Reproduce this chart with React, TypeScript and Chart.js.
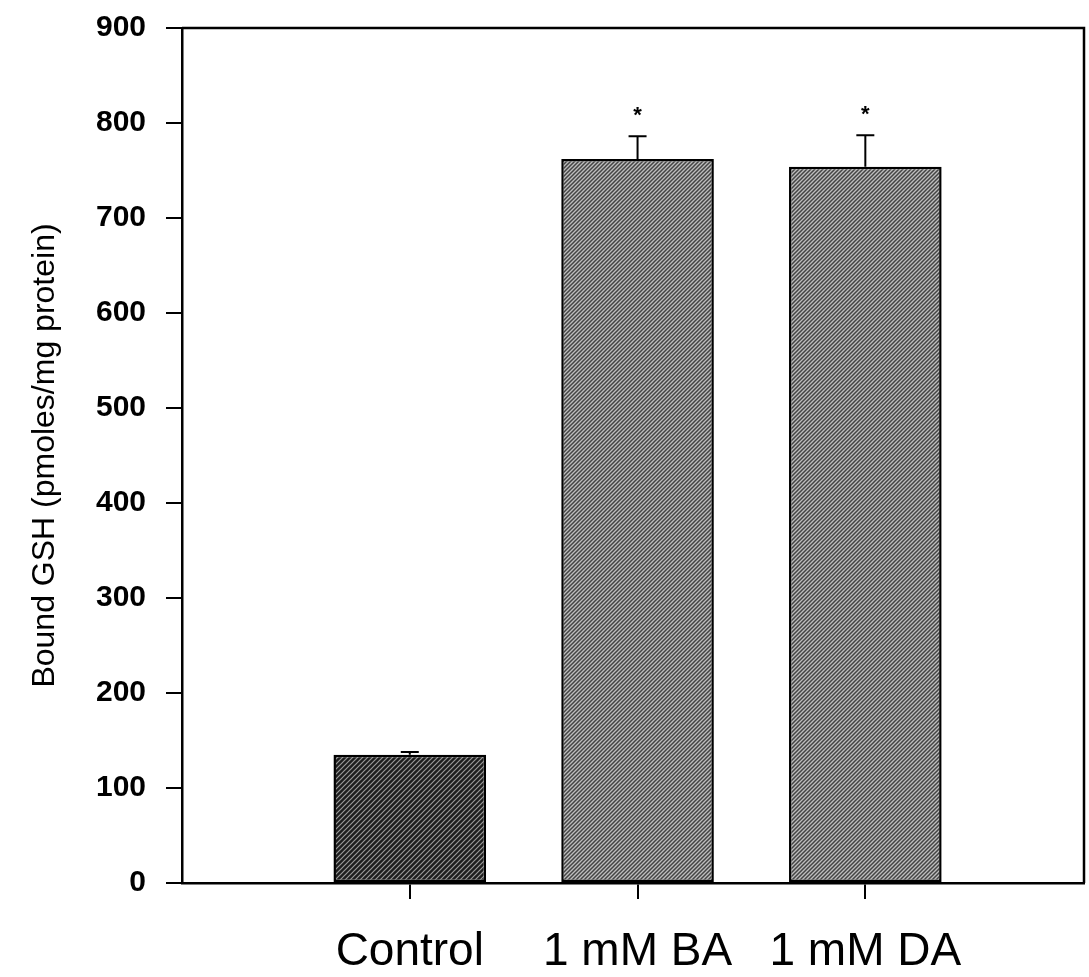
import React, { useEffect, useRef } from "react";
import { Chart, registerables } from "chart.js";

Chart.register(...registerables);

const categories = ["Control", "1 mM BA", "1 mM DA"];
const positions = [1, 2, 3];
const values = [135, 762, 754];
const errors = [3, 24, 33];
const marks = ["", "*", "*"];
const yTitle = "Bound GSH (pmoles/mg protein)";

function makePattern(bg: string, line: string, lw: number, step: number): CanvasPattern | string {
  const c = document.createElement("canvas");
  c.width = step;
  c.height = step;
  const g = c.getContext("2d");
  if (!g) return bg;
  g.fillStyle = bg;
  g.fillRect(0, 0, step, step);
  g.strokeStyle = line;
  g.lineWidth = lw;
  g.beginPath();
  g.moveTo(-1, step + 1);
  g.lineTo(step + 1, -1);
  g.moveTo(-1, 1);
  g.lineTo(1, -1);
  g.moveTo(step - 1, step + 1);
  g.lineTo(step + 1, step - 1);
  g.stroke();
  const p = g.createPattern(c, "repeat");
  return p || bg;
}

export default function App() {
  const ref = useRef<HTMLCanvasElement | null>(null);

  useEffect(() => {
    if (!ref.current) return;
    const controlFill = makePattern("#1e1e1e", "#9a9a9a", 1.2, 5);
    const treatFill = makePattern("#bdbdbd", "#444444", 1.5, 4);

    const extras = {
      id: "extras",
      afterDatasetsDraw(chart: any) {
        const ctx = chart.ctx;
        const xs = chart.scales.x;
        const ys = chart.scales.y;
        ctx.save();
        ctx.strokeStyle = "#000";
        ctx.fillStyle = "#000";
        ctx.lineWidth = 2;
        positions.forEach((p, i) => {
          const x = xs.getPixelForValue(p);
          const y0 = ys.getPixelForValue(values[i]);
          const y1 = ys.getPixelForValue(values[i] + errors[i]);
          ctx.beginPath();
          ctx.moveTo(x, y0);
          ctx.lineTo(x, y1);
          ctx.moveTo(x - 9, y1);
          ctx.lineTo(x + 9, y1);
          ctx.stroke();
          if (marks[i]) {
            ctx.font = "bold 22px 'Liberation Sans', Arial, sans-serif";
            ctx.textAlign = "center";
            ctx.textBaseline = "middle";
            ctx.fillText(marks[i], x, y1 - 20);
          }
        });
        const a = chart.chartArea;
        ctx.lineWidth = 2.5;
        ctx.beginPath();
        ctx.moveTo(a.left, a.top);
        ctx.lineTo(a.right, a.top);
        ctx.lineTo(a.right, a.bottom);
        ctx.stroke();
        ctx.restore();
      },
    };

    const chart = new Chart(ref.current, {
      type: "bar",
      data: {
        datasets: [
          {
            data: positions.map((x, i) => ({ x, y: values[i] })),
            backgroundColor: [controlFill, treatFill, treatFill] as any,
            borderColor: "#000",
            borderWidth: 2.5,
            borderSkipped: false,
            barPercentage: 0.67,
            categoryPercentage: 1,
          },
        ],
      },
      options: {
        animation: false,
        responsive: false,
        maintainAspectRatio: false,
        layout: { padding: { top: 28, right: 5, left: 0, bottom: 0 } },
        plugins: { legend: { display: false }, tooltip: { enabled: false } },
        scales: {
          x: {
            type: "linear",
            min: 0,
            max: 3.96,
            offset: false,
            afterBuildTicks: (s: any) => {
              s.ticks = positions.map((v) => ({ value: v }));
            },
            afterFit: (s: any) => {
              s.height = 94;
              s.paddingLeft = 0;
              s.paddingRight = 0;
            },
            grid: {
              display: true,
              offset: false,
              drawOnChartArea: false,
              drawTicks: true,
              tickLength: 16,
              color: "#000",
              lineWidth: 2,
            },
            border: { display: true, color: "#000", width: 2.5 },
            ticks: {
              autoSkip: false,
              maxRotation: 0,
              padding: 26,
              color: "#000",
              font: { family: "'Liberation Sans', Arial, sans-serif", size: 46 },
              callback: (v: any) => {
                const i = positions.indexOf(Number(v));
                return i >= 0 ? categories[i] : "";
              },
            },
          },
          y: {
            type: "linear",
            min: 0,
            max: 900,
            afterFit: (s: any) => {
              s.width = 182;
              s.paddingTop = 0;
              s.paddingBottom = 0;
            },
            grid: {
              display: true,
              drawOnChartArea: false,
              drawTicks: true,
              tickLength: 16,
              color: "#000",
              lineWidth: 2,
            },
            border: { display: true, color: "#000", width: 2.5 },
            ticks: {
              stepSize: 100,
              padding: 20,
              color: "#000",
              font: { family: "'Liberation Sans', Arial, sans-serif", size: 30, weight: "bold" },
            },
            title: {
              display: true,
              text: yTitle,
              color: "#000",
              padding: { top: 26, bottom: 0 },
              font: { family: "'Liberation Sans', Arial, sans-serif", size: 32 },
            },
          },
        },
      },
      plugins: [extras],
    } as any);
    return () => chart.destroy();
  }, []);

  return (
    <div style={{ position: "fixed", left: 0, top: 0, width: 1089, height: 977, background: "#fff" }}>
      <canvas ref={ref} width={1089} height={977} style={{ display: "block", width: 1089, height: 977 }} />
    </div>
  );
}
